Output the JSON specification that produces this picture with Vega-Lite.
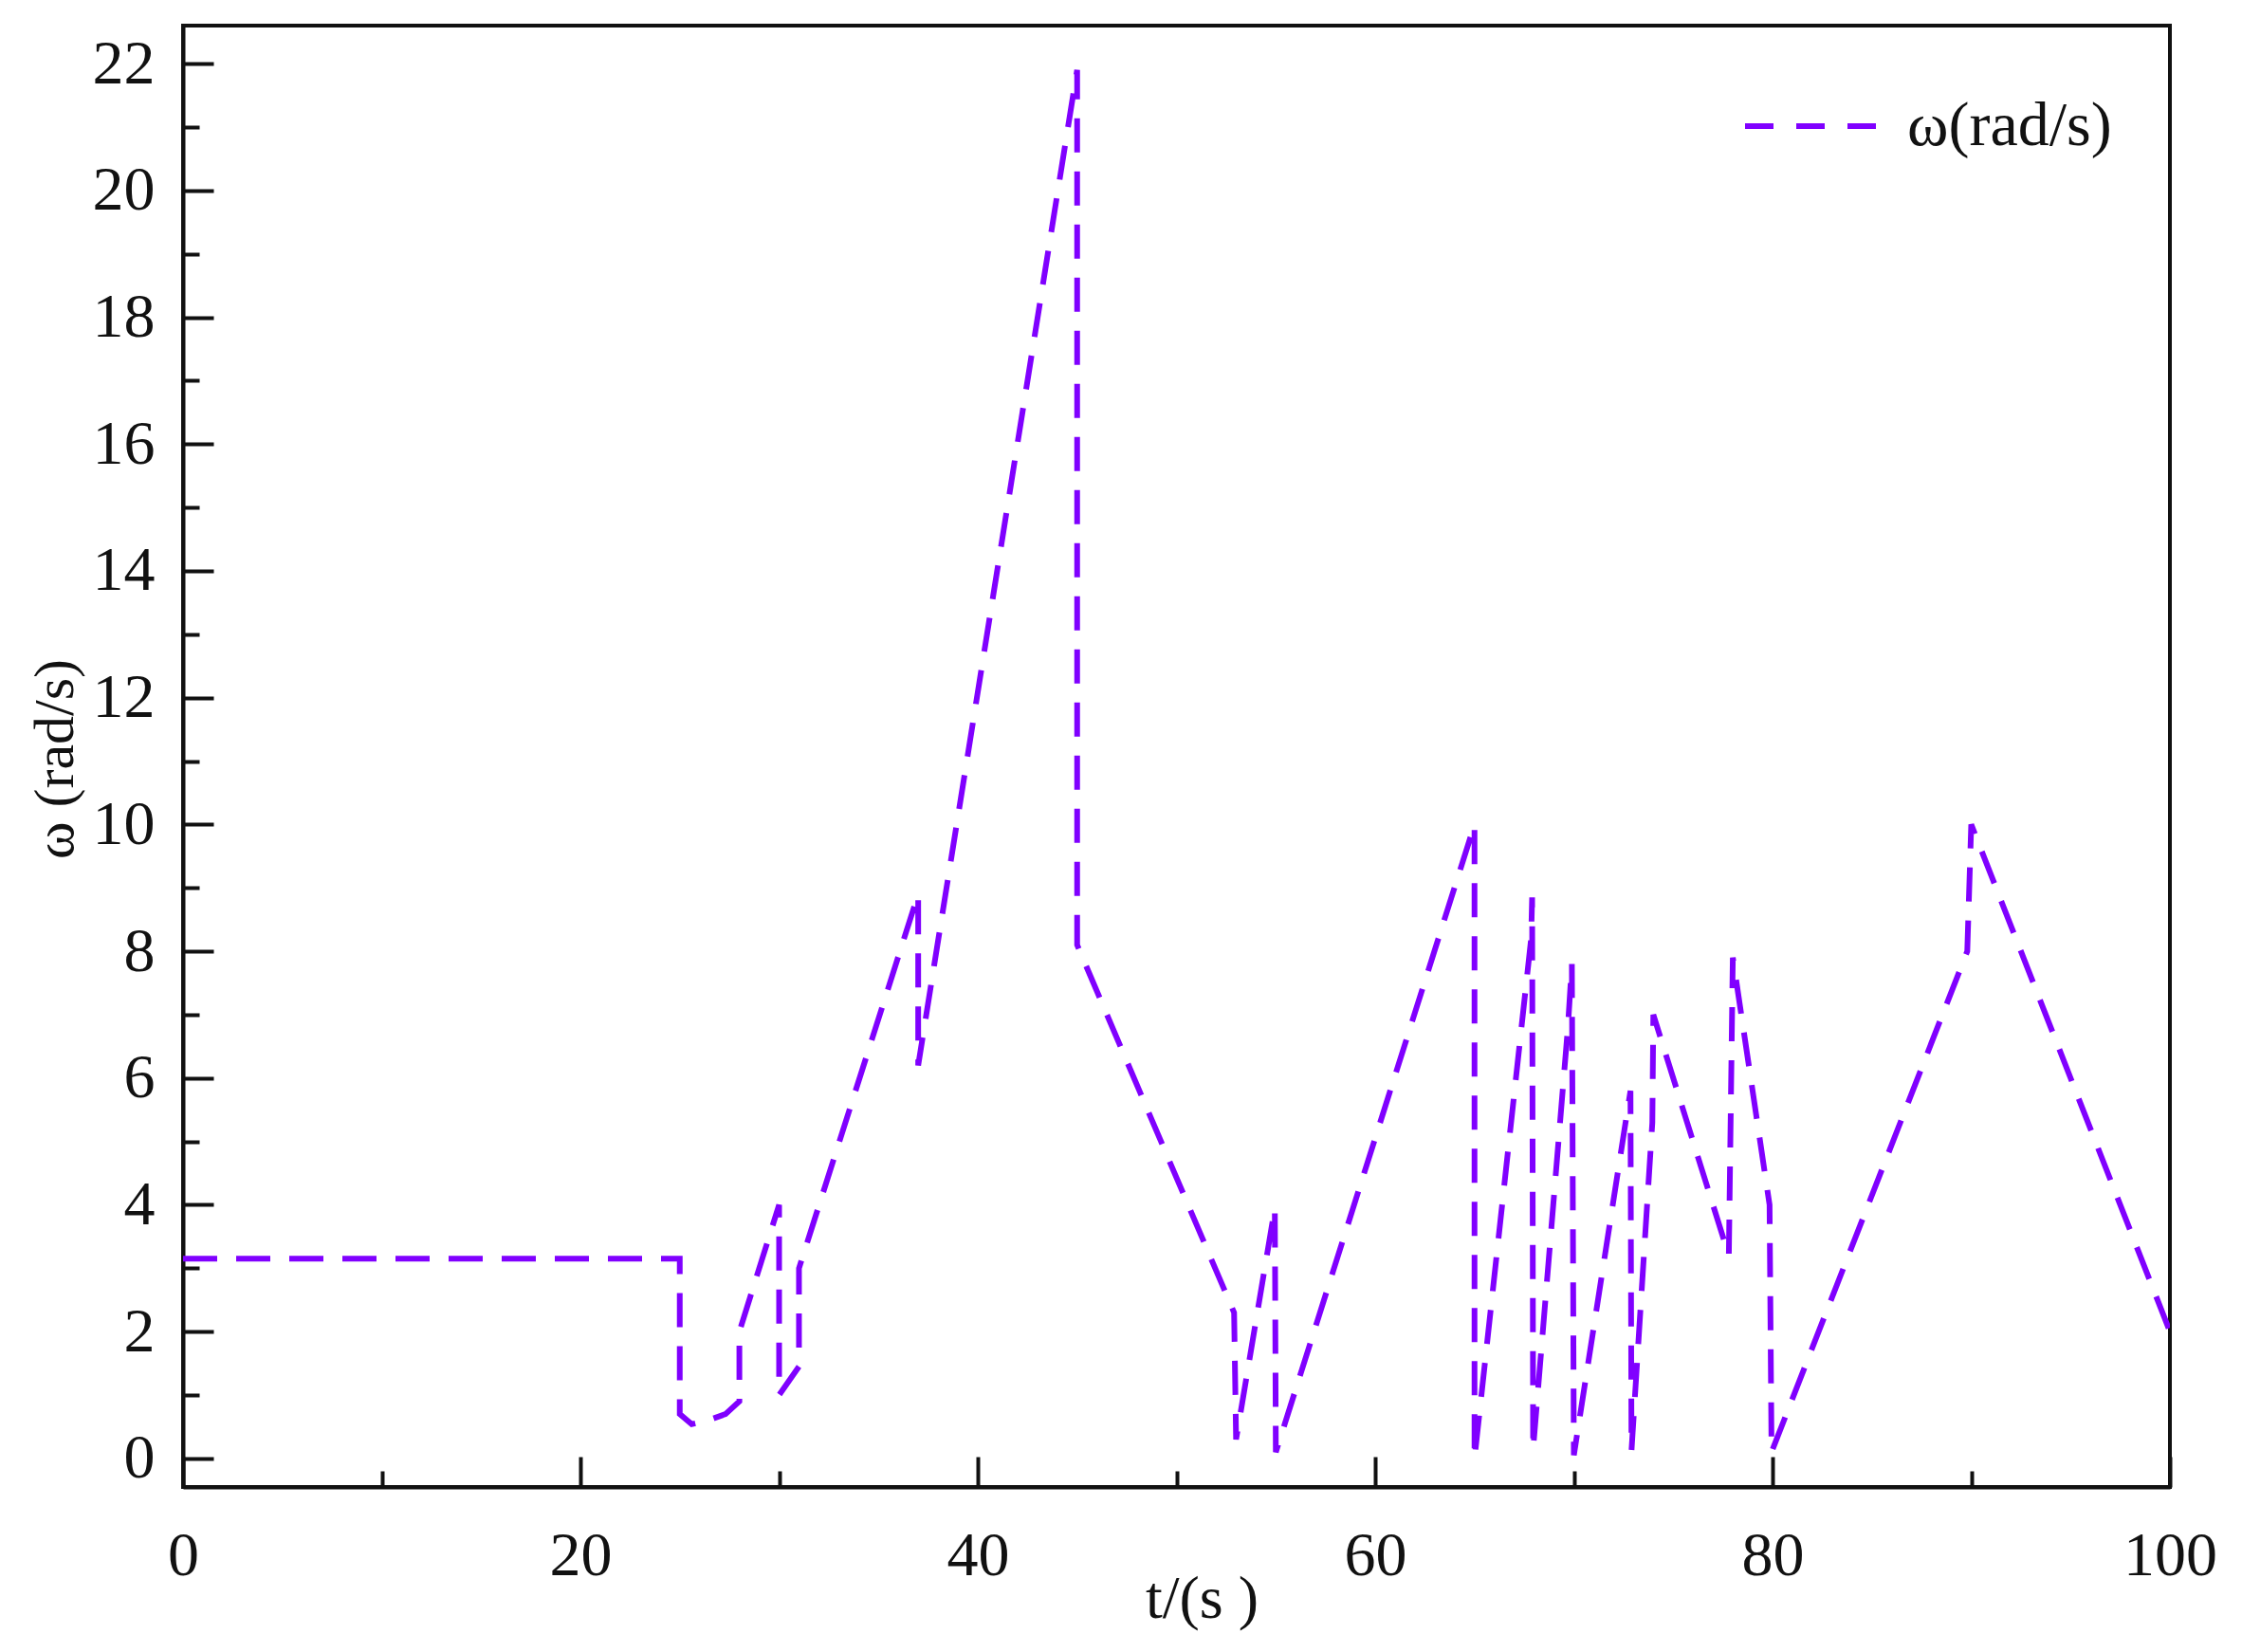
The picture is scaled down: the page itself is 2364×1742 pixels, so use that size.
{
  "$schema": "https://vega.github.io/schema/vega-lite/v6.json",
  "width": 2095,
  "height": 1541,
  "autosize": "none",
  "padding": {"left": 193, "top": 27, "right": 76, "bottom": 174},
  "background": "white",
  "config": {
    "view": {"stroke": "#111111", "strokeWidth": 4},
    "font": "Liberation Serif"
  },
  "data": {
    "values": [
      {"t": 0, "w": 3.15},
      {"t": 25, "w": 3.15},
      {"t": 25, "w": 0.7},
      {"t": 25.6, "w": 0.54},
      {"t": 26.4, "w": 0.6},
      {"t": 27.3, "w": 0.7},
      {"t": 28, "w": 0.9},
      {"t": 28, "w": 2.0},
      {"t": 30, "w": 4.0},
      {"t": 30, "w": 1.0},
      {"t": 31, "w": 1.45},
      {"t": 31, "w": 3.0},
      {"t": 37, "w": 8.9},
      {"t": 37, "w": 6.2},
      {"t": 45, "w": 21.9},
      {"t": 45, "w": 8.1},
      {"t": 52.9, "w": 2.3},
      {"t": 53, "w": 0.3},
      {"t": 54.95, "w": 3.95},
      {"t": 55, "w": 0.1},
      {"t": 65, "w": 10.0},
      {"t": 65, "w": 0.0},
      {"t": 67.85, "w": 8.2},
      {"t": 67.9, "w": 8.85},
      {"t": 67.95, "w": 0.15},
      {"t": 69.7, "w": 6.8},
      {"t": 69.9, "w": 7.8},
      {"t": 70, "w": 0.05},
      {"t": 72.85, "w": 5.8},
      {"t": 72.9, "w": 0.12},
      {"t": 73.95, "w": 5.3},
      {"t": 74, "w": 7.0},
      {"t": 77.8, "w": 3.2},
      {"t": 78, "w": 7.9},
      {"t": 79.85, "w": 4.0},
      {"t": 79.95, "w": 0.1},
      {"t": 89.8, "w": 8.0},
      {"t": 90, "w": 10.0},
      {"t": 100, "w": 2.0}
    ]
  },
  "mark": {
    "type": "line",
    "strokeWidth": 6,
    "strokeDash": [36, 20],
    "clip": true
  },
  "encoding": {
    "x": {
      "field": "t",
      "type": "quantitative",
      "scale": {"domain": [0, 100], "nice": false},
      "axis": {
        "values": [0, 10, 20, 30, 40, 50, 60, 70, 80, 90, 100],
        "labelExpr": "datum.value % 20 === 0 ? datum.label : ''",
        "tickSize": {"condition": {"test": "datum.value % 20 === 0", "value": -32}, "value": -17},
        "tickWidth": 4,
        "tickColor": "#111111",
        "domainColor": "#111111",
        "domainWidth": 4,
        "grid": false,
        "labelFontSize": 66,
        "labelColor": "#111111",
        "labelPadding": 72,
        "labelFlush": false,
        "labelOverlap": false,
        "title": "t/(s )",
        "titleFontSize": 64,
        "titleFontWeight": "normal",
        "titleColor": "#111111",
        "titleX": 1074,
        "titleY": 118,
        "titleBaseline": "middle"
      }
    },
    "y": {
      "field": "w",
      "type": "quantitative",
      "scale": {"domain": [-0.45, 22.6], "nice": false, "zero": false},
      "axis": {
        "values": [0, 1, 2, 3, 4, 5, 6, 7, 8, 9, 10, 11, 12, 13, 14, 15, 16, 17, 18, 19, 20, 21, 22],
        "labelExpr": "datum.value % 2 === 0 ? datum.label : ''",
        "tickSize": {"condition": {"test": "datum.value % 2 === 0", "value": -32}, "value": -17},
        "tickWidth": 4,
        "tickColor": "#111111",
        "domainColor": "#111111",
        "domainWidth": 4,
        "grid": false,
        "labelFontSize": 66,
        "labelColor": "#111111",
        "labelPadding": 62,
        "labelFlush": false,
        "labelOverlap": false,
        "title": "ω (rad/s)",
        "titleFontSize": 60,
        "titleFontWeight": "normal",
        "titleColor": "#111111",
        "titleX": -135,
        "titleY": 773,
        "titleAngle": -90,
        "titleAlign": "center",
        "titleBaseline": "middle"
      }
    },
    "order": {"value": null},
    "color": {
      "datum": "ω(rad/s)",
      "type": "nominal",
      "scale": {"range": ["#8000ff"]},
      "legend": {
        "orient": "none",
        "legendX": 1644,
        "legendY": 34,
        "title": null,
        "padding": 0,
        "symbolType": "stroke",
        "symbolSize": 19044,
        "symbolStrokeWidth": 6,
        "symbolDash": [30, 24],
        "labelFont": "Liberation Serif",
        "labelFontSize": 66,
        "labelColor": "#111111",
        "labelLimit": 0,
        "labelOffset": 30
      }
    }
  }
}
